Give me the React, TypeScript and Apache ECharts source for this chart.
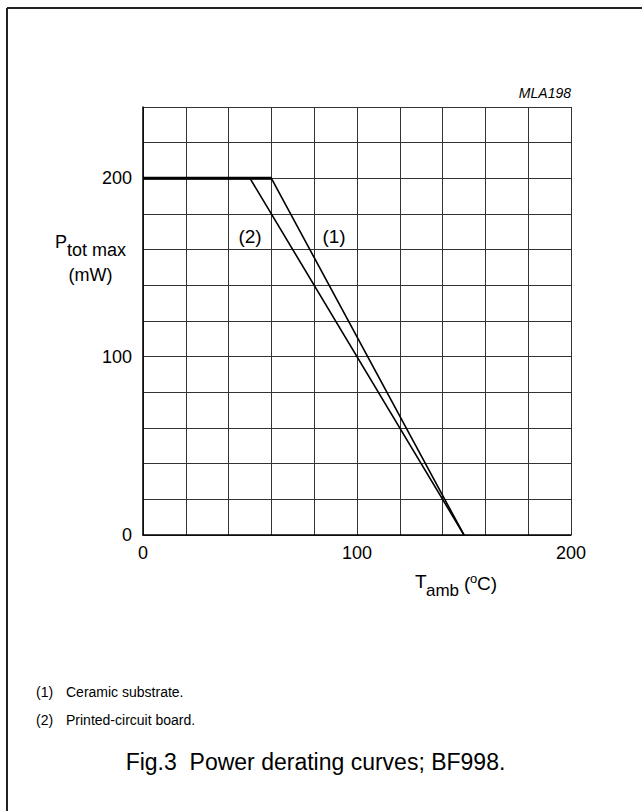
import React, { useEffect, useRef } from "react";
import * as echarts from "echarts";

const curve1: number[][] = [[0, 200], [60, 200], [150, 0]]; // (1) Ceramic substrate
const curve2: number[][] = [[0, 200], [50, 200], [150, 0]]; // (2) Printed-circuit board
const yTickLabels = [0, 100, 200];
const xTickLabels = [0, 100, 200];

const FONT = "'Liberation Sans', Arial, sans-serif";

function txt(x: number, y: number, text: string, fontSize: number, align = "left", extra: any = {}) {
  return {
    type: "text",
    x,
    y,
    style: { text, fontSize, fontFamily: FONT, fill: "#000", align, verticalAlign: "middle", ...extra },
  };
}

export default function App() {
  const ref = useRef<HTMLDivElement>(null);
  useEffect(() => {
    const chart = echarts.init(ref.current!, undefined, { renderer: "svg" });
    chart.setOption({
      animation: false,
      backgroundColor: "#fff",
      textStyle: { fontFamily: FONT },
      grid: { left: 143, right: 71, top: 107, bottom: 276 },
      xAxis: {
        type: "value",
        min: 0,
        max: 200,
        interval: 20,
        axisLine: { show: true, lineStyle: { color: "#000", width: 1.5 } },
        axisTick: { show: false },
        axisLabel: {
          margin: 9,
          fontSize: 18,
          color: "#000",
          fontFamily: FONT,
          formatter: (v: number) => (xTickLabels.includes(v) ? String(v) : ""),
        },
        splitLine: { show: true, lineStyle: { color: "#333", width: 1 } },
      },
      yAxis: {
        type: "value",
        min: 0,
        max: 240,
        interval: 20,
        axisLine: { show: true, lineStyle: { color: "#000", width: 1.5 } },
        axisTick: { show: false },
        axisLabel: {
          margin: 11,
          fontSize: 18,
          color: "#000",
          fontFamily: FONT,
          formatter: (v: number) => (yTickLabels.includes(v) ? String(v) : ""),
        },
        splitLine: { show: true, lineStyle: { color: "#333", width: 1 } },
      },
      series: [
        {
          name: "(1)",
          type: "line",
          data: curve1,
          symbol: "none",
          lineStyle: { color: "#000", width: 1.6 },
        },
        {
          name: "(2)",
          type: "line",
          data: curve2,
          symbol: "none",
          lineStyle: { color: "#000", width: 1.6 },
        },
        {
          name: "flat",
          type: "line",
          data: curve1.slice(0, 2),
          symbol: "none",
          lineStyle: { color: "#000", width: 3 },
        },
      ],
      graphic: [
        { type: "line", shape: { x1: 7, y1: 8, x2: 642, y2: 8 }, style: { stroke: "#222", lineWidth: 2 } },
        { type: "line", shape: { x1: 7, y1: 8, x2: 7, y2: 811 }, style: { stroke: "#222", lineWidth: 2 } },
        txt(571, 93, "MLA198", 14, "right", { fontStyle: "italic" }),
        txt(250, 236, "(2)", 19, "center"),
        txt(334, 236, "(1)", 19, "center"),
        txt(55, 242, "P", 18),
        txt(67, 250, "tot max", 18),
        txt(90.5, 275, "(mW)", 18, "center"),
        txt(415, 581, "T", 19),
        txt(426, 590, "amb", 17),
        txt(464, 583, "(", 19),
        txt(470, 578, "o", 13),
        txt(477, 583, "C)", 19),
        txt(36, 692, "(1)", 14),
        txt(66, 692, "Ceramic substrate.", 14),
        txt(36, 720, "(2)", 14),
        txt(66, 720, "Printed-circuit board.", 14),
        txt(315.5, 762, "Fig.3\u00a0\u00a0Power derating curves; BF998.", 23, "center"),
      ],
    });
    return () => chart.dispose();
  }, []);
  return (
    <div
      ref={ref}
      style={{ position: "absolute", left: 0, top: 0, width: 642, height: 811 }}
    />
  );
}
